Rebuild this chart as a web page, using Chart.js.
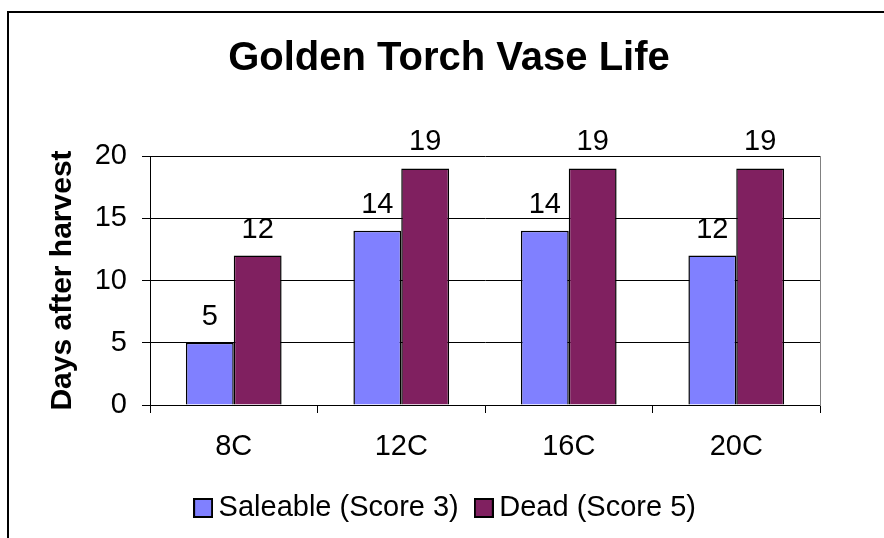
<!DOCTYPE html>
<html>
<head>
<meta charset="utf-8">
<title>Golden Torch Vase Life</title>
<script src="https://cdn.jsdelivr.net/npm/chart.js@4.4.0/dist/chart.umd.min.js"></script>
<style>
  html, body { margin: 0; padding: 0; background: #fff; }
  #wrap { width: 884px; height: 538px; }
</style>
</head>
<body>
<div id="wrap"><canvas id="vaseLifeChart" width="884" height="538"></canvas></div>
<script>
// storage temperatures and days after harvest
const temperatures = ['8C', '12C', '16C', '20C'];
const saleableDays = [5, 14, 14, 12];
const deadDays = [12, 19, 19, 19];
const dayTicks = [0, 5, 10, 15, 20];

const FONT = "'Liberation Sans', Arial, sans-serif";
const TEXT_SIZE = 29;

// small filled square used as the legend marker
function legendSwatch(color) {
    const c = document.createElement('canvas');
    c.width = 20;
    c.height = 20;
    const g = c.getContext('2d');
    g.fillStyle = color;
    g.fillRect(0, 0, 20, 20);
    g.strokeStyle = '#000';
    g.lineWidth = 2;
    g.strokeRect(1, 1, 18, 18);
    return c;
}

// white page with the outer frame lines
const framePlugin = {
    id: 'frame',
    beforeDraw(chart) {
        const ctx = chart.ctx;
        ctx.save();
        ctx.fillStyle = '#fff';
        ctx.fillRect(0, 0, chart.width, chart.height);
        ctx.strokeStyle = '#000';
        ctx.lineWidth = 2;
        ctx.beginPath();
        ctx.moveTo(chart.width, 12);
        ctx.lineTo(8, 12);
        ctx.lineTo(8, chart.height);
        ctx.stroke();
        ctx.restore();
    }
};

// value written above every bar
const valueLabels = {
    id: 'valueLabels',
    afterDatasetsDraw(chart) {
        const ctx = chart.ctx;
        ctx.save();
        ctx.fillStyle = '#000';
        ctx.font = TEXT_SIZE + 'px ' + FONT;
        ctx.textAlign = 'center';
        ctx.textBaseline = 'alphabetic';
        chart.data.datasets.forEach((ds, i) => {
            chart.getDatasetMeta(i).data.forEach((bar, j) => {
                ctx.fillText(String(ds.data[j]), bar.x, bar.y - 18);
            });
        });
        ctx.restore();
    }
};

const ctx = document.getElementById('vaseLifeChart').getContext('2d');

new Chart(ctx, {
    type: 'bar',
    data: {
        labels: temperatures,
        datasets: [{
            label: 'Saleable (Score 3)',
            data: saleableDays,
            backgroundColor: '#8080FF',
            borderColor: '#000',
            borderWidth: 1.5
        }, {
            label: 'Dead (Score 5)',
            data: deadDays,
            backgroundColor: '#802060',
            borderColor: '#000',
            borderWidth: 1.5
        }]
    },
    options: {
        responsive: false,
        animation: false,
        devicePixelRatio: 1,
        datasets: {
            bar: { categoryPercentage: 2 / 3.5, barPercentage: 1 }
        },
        layout: { padding: { top: 14, left: 14, right: 0, bottom: 5.5 } },
        plugins: {
            title: {
                display: true,
                text: 'Golden Torch Vase Life',
                color: '#000',
                font: { family: FONT, size: 40, weight: 'bold' },
                padding: { top: 21, bottom: 73 }
            },
            legend: {
                position: 'bottom',
                labels: {
                    usePointStyle: true,
                    boxWidth: 2,
                    boxHeight: 20,
                    padding: 24,
                    color: '#000',
                    font: { family: FONT, size: TEXT_SIZE },
                    generateLabels: chart => chart.data.datasets.map((ds, i) => ({
                        text: ds.label,
                        pointStyle: legendSwatch(ds.backgroundColor),
                        datasetIndex: i,
                        hidden: false,
                        lineWidth: 0
                    }))
                }
            },
            tooltip: { enabled: false }
        },
        scales: {
            x: {
                grid: { drawOnChartArea: false, color: '#000', tickLength: 8 },
                border: { color: '#000' },
                ticks: { color: '#000', font: { family: FONT, size: TEXT_SIZE }, padding: 17 },
                afterFit: s => { s.height = 64.5; }
            },
            y: {
                min: 0,
                max: 20,
                afterBuildTicks: s => { s.ticks = dayTicks.map(v => ({ value: v })); },
                grid: { color: '#000', tickLength: 8 },
                border: { color: '#000' },
                ticks: { color: '#000', font: { family: FONT, size: TEXT_SIZE }, padding: 15 },
                title: {
                    display: true,
                    text: 'Days after harvest',
                    color: '#000',
                    font: { family: FONT, size: 30, weight: 'bold' },
                    padding: { top: 31, bottom: 0 }
                },
                afterFit: s => { s.width = 136; }
            },
            // right edge of the plot area
            edge: {
                position: 'right',
                grid: { display: false },
                ticks: { display: false },
                border: { color: '#808080' },
                afterFit: s => { s.width = 64; }
            }
        }
    },
    plugins: [framePlugin, valueLabels]
});
</script>
</body>
</html>
